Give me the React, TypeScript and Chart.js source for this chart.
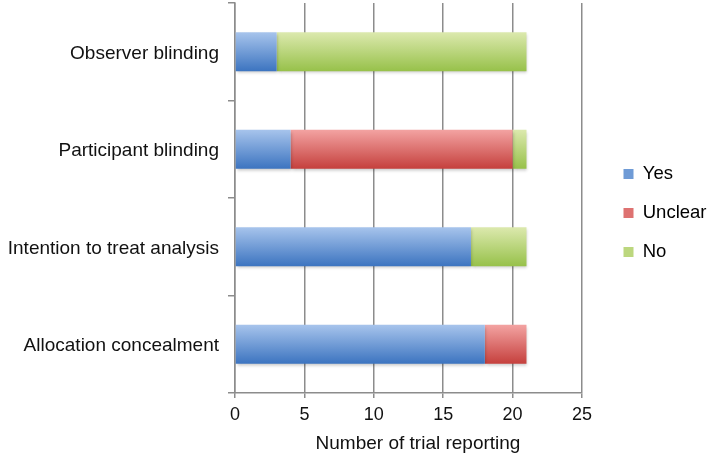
import React, { useEffect, useRef } from "react";
import { Chart, registerables } from "chart.js";

Chart.register(...registerables);

const categories = [
  "Observer blinding",
  "Participant blinding",
  "Intention to treat analysis",
  "Allocation concealment",
];
const seriesNames = ["Yes", "Unclear", "No"];
const yesValues = [3, 4, 17, 18];
const unclearValues = [0, 16, 0, 3];
const noValues = [18, 1, 4, 0];
const xMin = 0;
const xMax = 25;
const xStep = 5;
const xTitle = "Number of trial reporting";

const FONT = "'Liberation Sans', Arial, Helvetica, sans-serif";
const BAR_PCT = 0.4;

const topColors = ["#a7c4ec", "#f3a3a2", "#dce9ae"];
const bottomColors = ["#3c74c0", "#c5403d", "#97c14a"];
const legendColors = ["#6f9bd6", "#de7271", "#bcd77e"];

function gradientFor(i: number) {
  return (ctx: any) => {
    const chart = ctx.chart;
    const y = chart.scales && chart.scales.y;
    if (!y || ctx.dataIndex == null) return legendColors[i];
    const center = y.getPixelForValue(ctx.dataIndex);
    const half = (y.height / categories.length) * BAR_PCT / 2;
    const g = chart.ctx.createLinearGradient(0, center - half, 0, center + half);
    g.addColorStop(0, topColors[i]);
    g.addColorStop(1, bottomColors[i]);
    return g;
  };
}

const shadowPlugin = {
  id: "barShadow",
  beforeDatasetsDraw(chart: any) {
    const c = chart.ctx;
    c.save();
    c.shadowColor = "rgba(0,0,0,0.22)";
    c.shadowBlur = 3;
    c.shadowOffsetX = 1;
    c.shadowOffsetY = 2;
  },
  afterDatasetsDraw(chart: any) {
    chart.ctx.restore();
  },
};

const legendShiftPlugin = {
  id: "legendShift",
  afterLayout(chart: any) {
    const lg = chart.legend;
    if (!lg) return;
    const dx = 21;
    const dy = 15;
    lg.left += dx;
    lg.right += dx;
    lg.top += dy;
    lg.bottom += dy;
  },
};

export default function App() {
  const ref = useRef<HTMLCanvasElement | null>(null);
  useEffect(() => {
    if (!ref.current) return;
    const values = [yesValues, unclearValues, noValues];
    const chart = new Chart(ref.current, {
      type: "bar",
      data: {
        labels: categories,
        datasets: seriesNames.map((name, i) => ({
          label: name,
          data: values[i],
          backgroundColor: gradientFor(i),
          borderWidth: 0,
          barPercentage: BAR_PCT,
          categoryPercentage: 1,
        })),
      },
      options: {
        indexAxis: "y",
        responsive: false,
        animation: false,
        layout: { padding: { top: 3, left: 0, right: 0, bottom: 0 } },
        plugins: {
          tooltip: { enabled: false },
          legend: {
            position: "right",
            fullSize: false,
            labels: {
              boxWidth: 10,
              boxHeight: 10,
              padding: 20.5,
              color: "#111",
              font: { family: FONT, size: 18.5 },
              generateLabels: () =>
                seriesNames.map((name, i) => ({
                  text: name,
                  fillStyle: legendColors[i],
                  strokeStyle: legendColors[i],
                  lineWidth: 0,
                  hidden: false,
                  datasetIndex: i,
                })),
            },
          },
        },
        scales: {
          x: {
            stacked: true,
            min: xMin,
            max: xMax,
            ticks: {
              stepSize: xStep,
              color: "#111",
              padding: 6,
              font: { family: FONT, size: 18 },
            },
            grid: { color: "#8c8c8c", lineWidth: 1.5, tickLength: 5 },
            border: { color: "#8c8c8c", width: 1.5 },
            title: {
              display: true,
              text: "\u2002\u2002" + xTitle,
              color: "#111",
              font: { family: FONT, size: 19 },
              padding: { top: 0, bottom: 8 },
            },
            afterFit: (scale: any) => {
              scale.height = 70;
              scale.paddingRight = 127;
            },
          },
          y: {
            stacked: true,
            ticks: {
              color: "#111",
              padding: 9,
              labelOffset: 2,
              font: { family: FONT, size: 19 },
            },
            grid: {
              drawOnChartArea: false,
              color: "#8c8c8c",
              lineWidth: 1.5,
              tickLength: 7,
              offset: true,
            },
            border: { color: "#8c8c8c", width: 1.5 },
            afterFit: (scale: any) => {
              scale.width = 235;
              scale.paddingTop = 0;
              scale.paddingBottom = 0;
            },
          },
        },
      },
      plugins: [shadowPlugin, legendShiftPlugin],
    } as any);
    return () => chart.destroy();
  }, []);
  return (
    <div style={{ position: "fixed", left: 0, top: 0, width: 709, height: 463, background: "#fff" }}>
      <canvas ref={ref} width={709} height={463} style={{ display: "block" }} />
    </div>
  );
}
